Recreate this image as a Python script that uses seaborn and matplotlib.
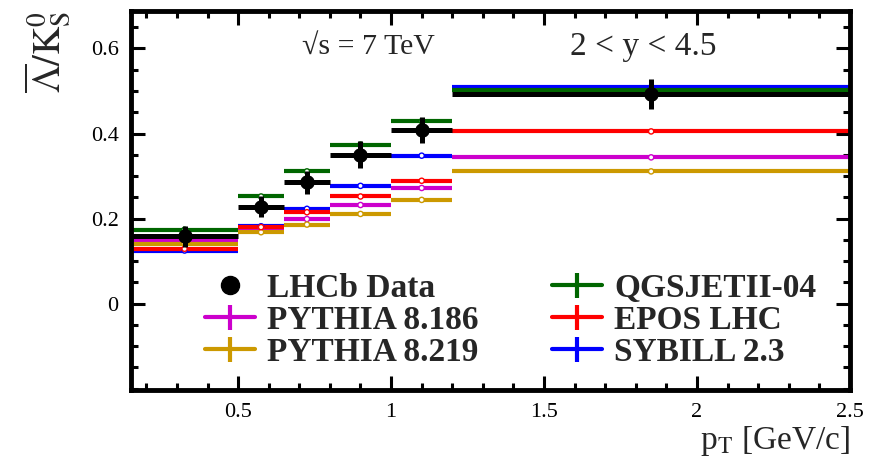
import numpy as np
import pandas as pd
import seaborn as sns
import matplotlib.pyplot as plt
from matplotlib.lines import Line2D
from matplotlib.ticker import MultipleLocator

# pT bins [GeV/c] and the measured anti-Lambda / K0S ratio
bin_edges = [0.15, 0.5, 0.65, 0.8, 1.0, 1.2, 2.5]
data_ratio = [0.158, 0.228, 0.285, 0.350, 0.409, 0.493]
data_err = [0.024, 0.024, 0.027, 0.032, 0.031, 0.035]

# generator predictions, one value per bin
sibyll = [0.125, 0.182, 0.223, 0.277, 0.348, 0.509]
pythia_8186 = [0.149, 0.178, 0.199, 0.232, 0.272, 0.344]
pythia_8219 = [0.141, 0.168, 0.186, 0.211, 0.244, 0.311]
epos = [0.129, 0.180, 0.215, 0.252, 0.289, 0.405]
qgsjet = [0.174, 0.252, 0.311, 0.374, 0.429, 0.503]

model_names = ["SYBILL 2.3", "PYTHIA 8.186", "PYTHIA 8.219", "EPOS LHC", "QGSJETII-04"]
model_values = [sibyll, pythia_8186, pythia_8219, epos, qgsjet]
colors = {
    "SYBILL 2.3": "#0000ff",
    "PYTHIA 8.186": "#cc00cc",
    "PYTHIA 8.219": "#cc9900",
    "EPOS LHC": "#ff0000",
    "QGSJETII-04": "#006600",
}
legend_order = ["LHCb Data", "PYTHIA 8.186", "PYTHIA 8.219",
                "QGSJETII-04", "EPOS LHC", "SYBILL 2.3"]

xtick_vals = [0.5, 1, 1.5, 2, 2.5]
xtick_labels = ["0.5", "1", "1.5", "2", "2.5"]
ytick_vals = [0, 0.2, 0.4, 0.6]
ytick_labels = ["0", "0.2", "0.4", "0.6"]

edges = np.array(bin_edges)
lo, hi = edges[:-1], edges[1:]
centers = (lo + hi) / 2

rows = []
for name, vals in zip(model_names, model_values):
    for i, v in enumerate(vals):
        rows.append({"model": name, "lo": lo[i], "hi": hi[i], "center": centers[i], "value": v})
models = pd.DataFrame(rows)
data = pd.DataFrame({"center": centers, "ratio": data_ratio, "err": data_err,
                     "lo": lo, "hi": hi})

sns.set_theme(style="ticks")
plt.rcParams["font.family"] = ["Liberation Serif", "DejaVu Serif"]
plt.rcParams["mathtext.fontset"] = "stix"

fig = plt.figure(figsize=(8.8, 4.61), dpi=100)
ax = fig.add_axes([0.1489, 0.154, 0.817, 0.822])

# model histograms: flat lines across each bin
for name in model_names:
    d = models[models["model"] == name]
    ax.hlines(d["value"], d["lo"], d["hi"], color=colors[name], lw=3, zorder=2)
sns.scatterplot(data=models, x="center", y="value", hue="model", palette=colors,
                s=14, linewidth=1, legend=False, ax=ax, zorder=3)
pts = ax.collections[-1]
pts.set_edgecolor(pts.get_facecolor())
pts.set_facecolor("white")

# data
ax.errorbar(data["center"], data["ratio"], yerr=data["err"],
            xerr=[data["center"] - data["lo"], data["hi"] - data["center"]],
            fmt="none", ecolor="black", elinewidth=3.6, capsize=0, zorder=4)
sns.scatterplot(data=data, x="center", y="ratio", color="black", s=110,
                linewidth=0, ax=ax, zorder=5)

ax.set_xlim(0.15, 2.5)
ax.set_ylim(-0.203, 0.688)
ax.set_xticks(xtick_vals)
ax.set_xticklabels(xtick_labels)
ax.set_yticks(ytick_vals)
ax.set_yticklabels(ytick_labels)
ax.xaxis.set_minor_locator(MultipleLocator(0.1))
ax.yaxis.set_minor_locator(MultipleLocator(0.05))
ax.tick_params(which="both", direction="in", top=True, right=True, width=2.2,
               labelsize=16, color="black", labelcolor="black")
ax.tick_params(which="major", length=10, pad=9)
ax.tick_params(which="minor", length=5)
for s in ax.spines.values():
    s.set_linewidth(3.5)
    s.set_color("black")

ax.set_xlabel(r"p$_{\mathrm{T}}$ [GeV/c]", loc="right", fontsize=24, labelpad=2)
ax.set_ylabel(r"$\overline{\Lambda}/\mathrm{K}^{0}_{\mathrm{S}}$", loc="top", fontsize=28)
ax.yaxis.set_label_coords(-0.081, 1.0)

ax.text(0.238, 0.905, "\u221as = 7 TeV", transform=ax.transAxes,
        fontsize=21.5, va="center", ha="left")
ax.text(0.61, 0.905, "2 < y < 4.5", transform=ax.transAxes,
        fontsize=24, va="center", ha="left")

handles = []
for name in legend_order:
    if name == "LHCb Data":
        handles.append(Line2D([], [], ls="none", marker="o", color="black", ms=13))
    else:
        handles.append(Line2D([], [], color=colors[name], lw=3, marker="|",
                              ms=18, mew=3))
leg = ax.legend(handles, legend_order, loc="upper left", bbox_to_anchor=(0.103, 0.31),
                ncol=2, frameon=False, borderpad=0, borderaxespad=0,
                handlelength=1.5, handletextpad=0.36, columnspacing=2.2,
                labelspacing=0.03, prop={"family": "Liberation Serif",
                                         "weight": "bold", "size": 24})

fig.savefig("out.png", dpi=100)
